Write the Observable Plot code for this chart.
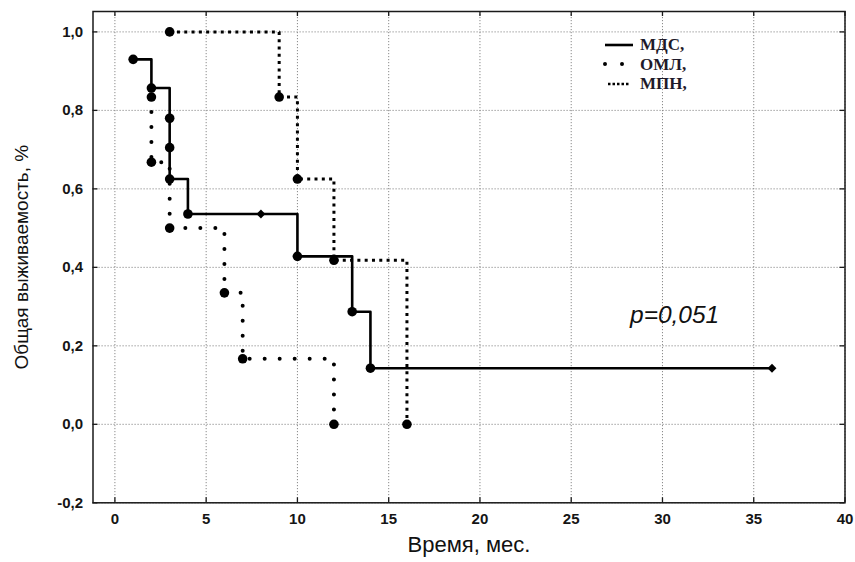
<!DOCTYPE html>
<html><head><meta charset="utf-8">
<script src="https://cdn.jsdelivr.net/npm/d3@7"></script>
<script src="https://cdn.jsdelivr.net/npm/@observablehq/plot@0.6"></script>
<style>
body{margin:0;background:#fff;}
#wrap{position:relative;width:855px;height:562px;overflow:hidden;background:#fff;}
.legend{position:absolute;left:600px;top:35px;font-family:"Liberation Serif","Times New Roman",serif;font-weight:bold;font-size:17px;color:#1e1a2a;}
.legend .row{display:flex;align-items:center;height:19.5px;line-height:19.5px;}
.legend svg{width:40px;height:12px;display:block;}
.pval{position:absolute;left:630px;top:302px;font-family:"Liberation Sans",Arial,sans-serif;font-style:italic;font-size:24.5px;line-height:25px;color:#111;}
</style></head>
<body><div id="wrap"></div>
<script>
// ---- data ----
const seriesNames = ["МДС", "ОМЛ", "МПН"];
const legendLabels = ["МДС,", "ОМЛ,", "МПН,"];
const mdsTime = [1, 2, 3, 3, 3, 4, 8, 10, 13, 14, 36];
const mdsSurv = [0.93, 0.857, 0.78, 0.705, 0.625, 0.536, 0.536, 0.428, 0.287, 0.143, 0.143];
const mdsCens = [0, 0, 0, 0, 0, 0, 1, 0, 0, 0, 1];
const omlTime = [2, 2, 3, 6, 7, 12];
const omlSurv = [0.834, 0.668, 0.5, 0.335, 0.167, 0];
const omlCens = [0, 0, 0, 0, 0, 0];
const mpnTime = [3, 9, 10, 12, 16];
const mpnSurv = [1.0, 0.834, 0.625, 0.418, 0];
const mpnCens = [0, 0, 0, 0, 0];
const xTicks = [0, 5, 10, 15, 20, 25, 30, 35, 40];
const yTicks = [-0.2, 0, 0.2, 0.4, 0.6, 0.8, 1.0];
const xTitle = "Время, мес.";
const yTitle = "Общая выживаемость, %";
const pText = "p=0,051";

// ---- build table ----
const raw = [[mdsTime, mdsSurv, mdsCens], [omlTime, omlSurv, omlCens], [mpnTime, mpnSurv, mpnCens]];
const rows = raw.flatMap(([t, s, c], i) => t.map((tv, j) => ({series: seriesNames[i], t: tv, s: s[j], cens: c[j]})));
const styles = {
  "МДС": {strokeWidth: 2.6, strokeDasharray: null, strokeLinecap: "butt"},
  "ОМЛ": {strokeWidth: 4, strokeDasharray: "0 15", strokeLinecap: "round"},
  "МПН": {strokeWidth: 3, strokeDasharray: "3 4.3", strokeLinecap: "butt"}
};
const fmtY = d => d.toFixed(1).replace(".", ",");

const W = 855, H = 562, mL = 92.5, mR = 10.5, mT = 11, mB = 59.7;
const innerW = W - mL - mR, innerH = H - mT - mB, tk = 5;

const lineMarks = seriesNames.map(name => Plot.line(rows.filter(d => d.series === name), {
  x: "t", y: "s", curve: "step-after", stroke: "black", ...styles[name]
}));

const chart = Plot.plot({
  width: W, height: H,
  marginLeft: mL, marginRight: mR, marginTop: mT, marginBottom: mB,
  style: {fontFamily: "'Liberation Sans', Arial, sans-serif", fontSize: "14px", background: "white", color: "black", overflow: "visible"},
  x: {domain: [-1.2, 40]},
  y: {domain: [-0.2, 1.052]},
  marks: [
    Plot.gridX(xTicks, {stroke: "#8a8a8a", strokeOpacity: 1, strokeWidth: 1, strokeDasharray: "1.2 1.8"}),
    Plot.gridY(yTicks, {stroke: "#8a8a8a", strokeOpacity: 1, strokeWidth: 1, strokeDasharray: "1.2 1.8"}),
    ...lineMarks,
    Plot.dot(rows.filter(d => !d.cens), {x: "t", y: "s", r: 4.8, fill: "black", stroke: "none"}),
    Plot.dot(rows.filter(d => d.cens), {x: "t", y: "s", r: 4, symbol: "diamond2", fill: "black", stroke: "none"}),
    Plot.frame({stroke: "#1a1a1a", strokeWidth: 1.5}),
    // inward ticks on all four sides
    Plot.tickX(xTicks, {x: d => d, insetTop: innerH - tk, stroke: "#1a1a1a", strokeWidth: 1.3}),
    Plot.tickX(xTicks, {x: d => d, insetBottom: innerH - tk, stroke: "#1a1a1a", strokeWidth: 1.3}),
    Plot.tickY(yTicks, {y: d => d, insetRight: innerW - tk, stroke: "#1a1a1a", strokeWidth: 1.3}),
    Plot.tickY(yTicks, {y: d => d, insetLeft: innerW - tk, stroke: "#1a1a1a", strokeWidth: 1.3}),
    Plot.axisX(xTicks, {tickSize: 0, tickPadding: 11, label: null, fontSize: 15, fontWeight: "bold", fill: "#151515"}),
    Plot.axisY(yTicks, {tickSize: 0, tickPadding: 10, label: null, tickFormat: fmtY, fontSize: 15, fontWeight: "bold", fill: "#151515"}),
    Plot.text([xTitle], {frameAnchor: "bottom", dy: 49, fontSize: 22, fill: "#111"}),
    Plot.text([yTitle], {frameAnchor: "left", dx: -71, rotate: -90, textAnchor: "middle", fontSize: 19, fill: "#111"})
  ]
});

const wrap = document.getElementById("wrap");
wrap.appendChild(chart);

// legend overlay
const leg = document.createElement("div");
leg.className = "legend";
const sampleSvg = {
  "МДС": '<line x1="5" x2="33" y1="6" y2="6" stroke="black" stroke-width="2.6"/>',
  "ОМЛ": '<line x1="5" x2="23" y1="6" y2="6" stroke="black" stroke-width="4" stroke-dasharray="0 17" stroke-linecap="round"/>',
  "МПН": '<line x1="8" x2="29" y1="6" y2="6" stroke="black" stroke-width="2.6" stroke-dasharray="2.5 2"/>'
};
seriesNames.forEach((name, i) => {
  const row = document.createElement("div");
  row.className = "row";
  row.innerHTML = '<svg viewBox="0 0 40 12">' + sampleSvg[name] + '</svg><span>' + legendLabels[i] + '</span>';
  leg.appendChild(row);
});
wrap.appendChild(leg);

const p = document.createElement("div");
p.className = "pval";
p.textContent = pText;
wrap.appendChild(p);
</script>
</body></html>
